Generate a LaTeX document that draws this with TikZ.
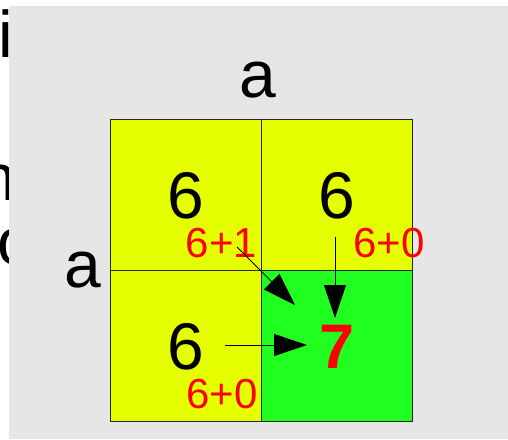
\documentclass[tikz,border=0pt]{standalone}
\usepackage{fontspec}
\setmainfont{Liberation Sans}
\usetikzlibrary{arrows.meta}
\definecolor{bggray}{RGB}{230,230,230}
\definecolor{cellyellow}{RGB}{230,255,0}
\definecolor{cellgreen}{RGB}{32,255,32}
\definecolor{labred}{RGB}{255,0,0}
\begin{document}
\begin{tikzpicture}[x=1pt,y=-1pt,
  big/.style={font=\fontsize{66}{79}\selectfont, inner sep=0pt, anchor=base},
  bigred/.style={font=\bfseries\fontsize{63}{75}\selectfont, text=labred, inner sep=0pt, anchor=base},
  sumlab/.style={font=\fontsize{42}{50}\selectfont, text=labred, inner sep=0pt, anchor=base},
  cellbox/.style={draw=black!85, line width=1pt, minimum width=151pt, minimum height=151pt, inner sep=0pt, outer sep=0pt},
  arr/.style={line width=0.9pt, -{Triangle[length=33pt,width=22pt]}}]
\useasboundingbox (0,0) rectangle (508,439);
\clip (0,0) rectangle (508,439);
% partial text at the left edge
\node[big, anchor=base west] (ci) at (-1.5,57) {i};
\node[big, anchor=base west] (cn) at (-20.5,200) {n};
\node[big, anchor=base west] (co) at (-2.6,264) {o};
\fill[bggray] (9,6) rectangle (508,439);
% cells
\node[cellbox, fill=cellyellow] (tl) at (185.5,194.5) {};
\node[cellbox, fill=cellyellow] (tr) at (336.5,194.5) {};
\node[cellbox, fill=cellyellow] (bl) at (185.5,345.5) {};
\node[cellbox, fill=cellgreen] (br) at (336.5,345.5) {};
% axis labels
\node[big] (atop) at (257.5,97) {a};
\node[big] (aleft) at (82.5,287) {a};
% cell values
\node[big] (vtl) at (185.5,218) {6};
\node[big] (vtr) at (336.5,218) {6};
\node[big] (vbl) at (185.5,369) {6};
\node[bigred] (vbr) at (337.5,368) {7};
% sums
\node[sumlab] (s1) at (221.5,257) {6+1};
\node[sumlab] (s2) at (389,257) {6+0};
\node[sumlab] (s3) at (222,408) {6+0};
% arrows
\coordinate (a1s) at (237,247);
\coordinate (a1e) at (295,305);
\coordinate (a2s) at (335,237);
\coordinate (a2e) at (335,318);
\coordinate (a3s) at (225,345);
\coordinate (a3e) at (307,345);
\draw[arr] (a1s) -- (a1e);
\draw[arr] (a2s) -- (a2e);
\draw[arr] (a3s) -- (a3e);
\end{tikzpicture}
\end{document}
